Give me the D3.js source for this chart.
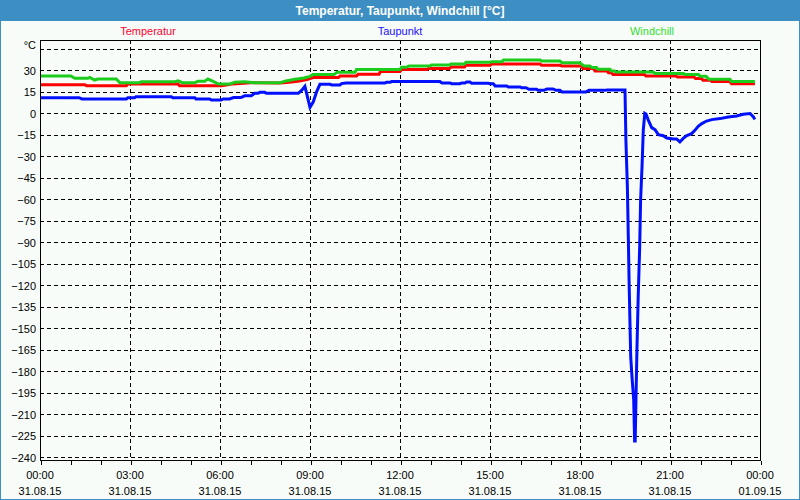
<!DOCTYPE html>
<html>
<head>
<meta charset="utf-8">
<script src="https://cdn.jsdelivr.net/npm/d3@7"></script>
<style>
  html, body { margin: 0; padding: 0; background: #f8fcf8; }
  svg { display: block; }
  text { font-family: "Liberation Sans", Arial, sans-serif; }
</style>
</head>
<body>
<svg id="chart" width="800" height="500"></svg>
<script>
// ---------------- data ----------------
const chartTitle = "Temperatur, Taupunkt, Windchill [°C]";
const seriesNames = ["Temperatur", "Taupunkt", "Windchill"];
const seriesColors = ["#ff0000", "#0010ff", "#1ccc1c"];
const legendColors = ["#ff0030", "#1a10ff", "#33dd33"];

// x-axis ticks (hours since 31.08.15 00:00)
const xTickHours = [0, 3, 6, 9, 12, 15, 18, 21, 24];
const xTimeLabels = ["00:00", "03:00", "06:00", "09:00", "12:00", "15:00", "18:00", "21:00", "00:00"];
const xDateLabels = ["31.08.15", "31.08.15", "31.08.15", "31.08.15", "31.08.15", "31.08.15", "31.08.15", "31.08.15", "01.09.15"];
const yTickValues = [30, 15, 0, -15, -30, -45, -60, -75, -90, -105, -120, -135, -150, -165, -180, -195, -210, -225, -240];
const yGridValues = [45, 30, 15, 0, -15, -30, -45, -60, -75, -90, -105, -120, -135, -150, -165, -180, -195, -210, -225, -240];
const yUnitLabel = "°C";

// Temperatur
const tempHours = [0, 1.5, 1.55, 2.88, 2.93, 4.6, 4.65, 6.05, 6.4, 6.8, 7.1, 8.0, 8.3, 8.6, 8.9, 9.1, 9.95, 10.0, 10.55, 10.6, 11.3, 11.35, 12.0, 12.05, 12.9, 12.95, 13.65, 13.7, 14.15, 14.2, 15.0, 15.05, 16.67, 16.72, 17.33, 17.4, 18.05, 18.1, 18.45, 18.5, 18.9, 18.95, 19.05, 19.1, 20.15, 20.2, 21.2, 21.25, 21.8, 21.85, 22.05, 22.1, 22.35, 22.4, 23.0, 23.05, 23.83];
const tempValues = [20, 20, 19.3, 19.3, 20.4, 20.4, 19.3, 19.3, 20.4, 21, 21.4, 21.2, 21.6, 22.4, 23.5, 24.9, 24.9, 26, 26, 27.2, 27.2, 29.2, 29.2, 30.5, 30.5, 31.2, 31.2, 32.3, 32.3, 33.5, 33.5, 34.4, 34.4, 33.5, 33.5, 33, 33, 31.2, 31.2, 29.5, 29.5, 28.3, 28.3, 27, 27, 26, 26, 25.3, 25.3, 24.2, 24.2, 23, 23, 22.1, 22.1, 20.7, 20.7];

// Windchill
const windHours = [0, 1.03, 1.16, 1.6, 1.66, 1.82, 1.93, 2.54, 2.66, 3.3, 3.38, 4.49, 4.6, 4.75, 5.16, 5.27, 5.49, 5.6, 5.75, 5.95, 6.32, 6.49, 6.82, 7.16, 8.0, 8.2, 8.5, 8.8, 9.0, 9.1, 9.8, 9.9, 10.5, 10.55, 12.0, 12.05, 12.2, 12.3, 13.0, 13.05, 13.65, 13.7, 14.15, 14.2, 15.0, 15.05, 15.4, 15.45, 16.67, 16.72, 17.33, 17.4, 18.0, 18.05, 18.15, 18.33, 18.4, 18.55, 18.6, 19.0, 19.05, 19.15, 19.2, 20.45, 20.5, 21.45, 21.5, 21.95, 22.0, 22.2, 22.3, 23.0, 23.05, 23.83];
const windValues = [26, 26, 24.4, 24.4, 25, 23.2, 23.9, 23.9, 21.4, 21.4, 22, 22, 22.6, 21.4, 21.4, 22.4, 22.4, 23.9, 22.4, 20.4, 20.4, 21.6, 22, 21.4, 21.4, 22.6, 23.8, 24.6, 25.8, 27, 27, 28.6, 28.6, 30.5, 30.5, 32.1, 32.1, 33, 33, 33.7, 33.7, 34.4, 34.4, 35.6, 35.6, 36, 36, 37.2, 37.2, 36.5, 36.5, 35.3, 35.3, 34.2, 33, 33, 31.9, 31.9, 30.7, 30.7, 29.5, 29.5, 28.8, 28.8, 27.7, 27.7, 27, 27, 25.8, 25.8, 23.7, 23.7, 22.1, 22.1];

// Taupunkt
const dewHours = [0, 1.3, 1.4, 2.88, 2.93, 3.15, 3.2, 4.38, 4.42, 5.16, 5.2, 5.66, 5.71, 6.04, 6.1, 6.32, 6.45, 6.7, 6.82, 7.04, 7.16, 7.27, 7.33, 7.49, 7.55, 8.61, 8.72, 8.83, 9.0, 9.11, 9.22, 9.33, 9.67, 9.72, 10.0, 10.05, 10.2, 11.5, 11.55, 11.67, 11.72, 13.33, 13.4, 13.67, 13.72, 14.0, 14.06, 14.17, 14.22, 14.33, 14.39, 14.94, 15.0, 15.11, 15.17, 15.56, 15.61, 16.0, 16.06, 16.2, 16.3, 16.55, 16.6, 16.8, 16.9, 17.1, 17.2, 17.33, 17.4, 18.2, 18.3, 18.8, 18.9, 19.5, 19.53, 19.58, 19.61, 19.64, 19.69, 19.74, 19.79, 19.82, 19.84, 19.87, 19.9, 19.94, 19.99, 20.02, 20.07, 20.11, 20.16, 20.2, 20.28, 20.39, 20.5, 20.61, 20.78, 20.89, 21.11, 21.22, 21.33, 21.44, 21.56, 21.72, 21.83, 21.94, 22.06, 22.22, 22.39, 22.67, 22.94, 23.22, 23.44, 23.67, 23.78, 23.83];
const dewValues = [10.9, 10.9, 10, 10, 10.9, 10.9, 11.6, 11.6, 10.9, 10.9, 10, 10, 9.3, 9.3, 10, 10, 11, 11, 12.2, 12.2, 14, 14, 14.6, 14.6, 13.9, 13.9, 16, 18.8, 4.2, 8, 15, 20.2, 20.2, 19.8, 19.8, 20.7, 21.2, 21.2, 21.6, 21.6, 22.1, 22.1, 21.2, 21.2, 20.7, 20.7, 21.2, 21.2, 21.9, 21.9, 21, 21, 20.7, 20.7, 19.1, 19.1, 18.4, 18.4, 17.8, 17.8, 16.7, 16.7, 16, 16, 17, 17, 16, 16, 14.9, 14.9, 16, 16, 16.3, 16.3, -18.6, -52, -86, -121, -170, -186, -200, -228.6, -228.6, -195, -163, -128, -93, -60.5, -36, -11.6, 0, -0.5, -4.9, -10, -11.4, -14.9, -15.6, -17.2, -17.9, -17.9, -20, -17.5, -15.6, -14.2, -11.9, -9.1, -7.2, -5.4, -4.4, -3.7, -2.6, -1.9, -0.7, -0.2, -2.6, -4.2];

// ---------------- drawing ----------------
const W = 800, H = 500;
const plot = { left: 40, top: 40, right: 760, bottom: 460 };
const svg = d3.select("#chart");

// background + frame
svg.append("rect").attr("x", 0).attr("y", 0).attr("width", W).attr("height", H).attr("fill", "#f8fcf8");
svg.append("rect").attr("x", 0).attr("y", 0).attr("width", W).attr("height", 21).attr("fill", "#3d8fc3");
svg.append("rect").attr("x", 0.5).attr("y", 0.5).attr("width", W - 1).attr("height", H - 1)
  .attr("fill", "none").attr("stroke", "#3d8fc3").attr("stroke-width", 1);

svg.append("text").attr("x", W / 2).attr("y", 14.5).attr("text-anchor", "middle")
  .attr("fill", "#ffffff").attr("font-weight", "bold").attr("font-size", "12px").text(chartTitle);

// scales
const x = d3.scaleLinear().domain([0, 24]).range([plot.left, plot.right]);
const y = d3.scaleLinear().domain([-241.9, 51.14]).range([plot.bottom, plot.top]);

// grid
const grid = svg.append("g").attr("shape-rendering", "crispEdges");
grid.selectAll("line.h").data(yGridValues).join("line").attr("class", "h")
  .attr("x1", plot.left).attr("x2", plot.right)
  .attr("y1", d => Math.round(y(d)) + 0.5).attr("y2", d => Math.round(y(d)) + 0.5)
  .attr("stroke", "#000").attr("stroke-dasharray", "4,3");
grid.selectAll("line.v").data(xTickHours.slice(1, -1)).join("line").attr("class", "v")
  .attr("x1", d => Math.round(x(d)) + 0.5).attr("x2", d => Math.round(x(d)) + 0.5)
  .attr("y1", plot.top).attr("y2", plot.bottom)
  .attr("stroke", "#000").attr("stroke-dasharray", "4,3");

// axes
const xAxis = d3.axisBottom(x).tickValues(d3.range(0, 25, 1)).tickSize(4).tickFormat("");
const gx = svg.append("g").attr("transform", `translate(0.5,${plot.bottom + 0.5})`).call(xAxis);
gx.select(".domain").remove();
gx.selectAll("line").attr("stroke", "#000").attr("shape-rendering", "crispEdges");

const yAxis = d3.axisLeft(y).tickValues(yTickValues).tickSize(0).tickPadding(4).tickFormat(d3.format("d"));
const gy = svg.append("g").attr("transform", `translate(${plot.left},0)`).call(yAxis);
gy.select(".domain").remove();
gy.selectAll("text").attr("font-size", "11px").attr("fill", "#000").attr("font-family", "Liberation Sans, Arial, sans-serif").attr("dy", "0.35em");

svg.append("text").attr("x", 36).attr("y", y(45) + 0).attr("text-anchor", "end")
  .attr("font-size", "11px").attr("fill", "#000").text(yUnitLabel);

// x labels
const xl = svg.append("g");
xl.selectAll("text.t").data(xTickHours).join("text").attr("class", "t")
  .attr("x", d => x(d)).attr("y", 479).attr("text-anchor", "middle").attr("font-size", "11px").attr("fill", "#000")
  .text((d, i) => xTimeLabels[i]);
xl.selectAll("text.d").data(xTickHours).join("text").attr("class", "d")
  .attr("x", d => x(d)).attr("y", 495).attr("text-anchor", "middle").attr("font-size", "11px").attr("fill", "#000")
  .text((d, i) => xDateLabels[i]);

// series
const series = [
  { name: seriesNames[0], hours: tempHours, values: tempValues, color: seriesColors[0] },
  { name: seriesNames[2], hours: windHours, values: windValues, color: seriesColors[2] },
  { name: seriesNames[1], hours: dewHours, values: dewValues, color: seriesColors[1] }
];
const line = d3.line().x(d => x(d[0])).y(d => y(d[1]));
const clip = svg.append("clipPath").attr("id", "plotclip").append("rect")
  .attr("x", plot.left).attr("y", plot.top).attr("width", plot.right - plot.left).attr("height", plot.bottom - plot.top);
svg.append("g").attr("clip-path", "url(#plotclip)").selectAll("path").data(series).join("path")
  .attr("d", s => line(s.hours.map((h, i) => [h, s.values[i]])))
  .attr("fill", "none").attr("stroke", s => s.color).attr("stroke-width", 3)
  .attr("stroke-linejoin", "miter").attr("stroke-linecap", "butt");

// plot border
svg.append("rect").attr("x", plot.left + 0.5).attr("y", plot.top + 0.5)
  .attr("width", plot.right - plot.left).attr("height", plot.bottom - plot.top)
  .attr("fill", "none").attr("stroke", "#000").attr("shape-rendering", "crispEdges");

// legend
const legendX = [148, 400, 652];
svg.append("g").selectAll("text").data(seriesNames).join("text")
  .attr("x", (d, i) => legendX[i]).attr("y", 35).attr("text-anchor", "middle")
  .attr("font-size", "11px").attr("fill", (d, i) => legendColors[i]).text(d => d);
</script>
</body>
</html>
